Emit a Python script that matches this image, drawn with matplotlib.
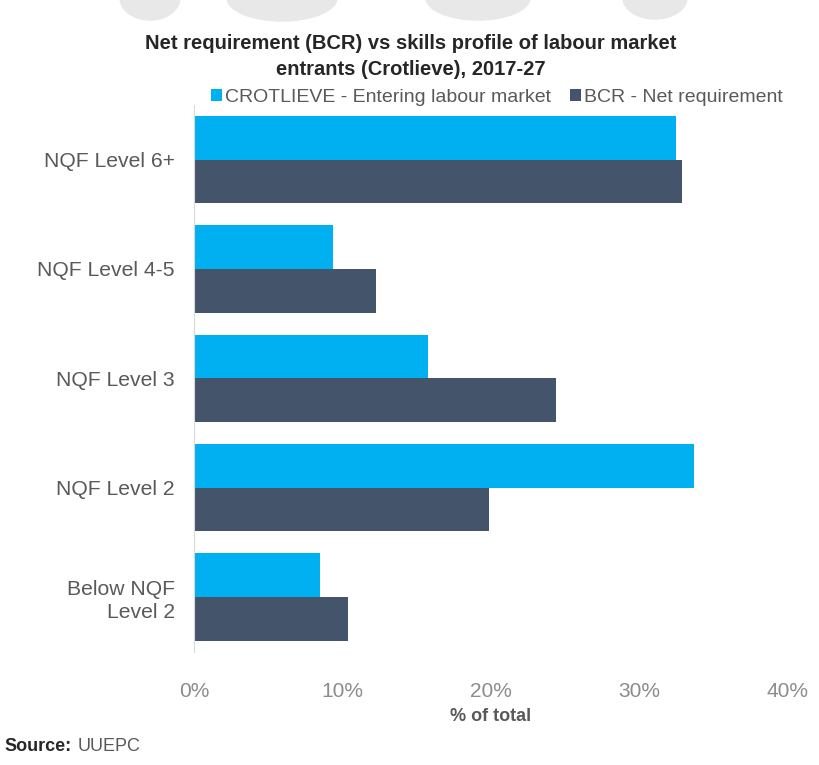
import numpy as np
import matplotlib.pyplot as plt
from matplotlib.patches import Ellipse
from matplotlib.ticker import PercentFormatter

plt.rcParams['font.family'] = ['Liberation Sans', 'DejaVu Sans']

# qualification levels, top to bottom as drawn
levels = ["NQF Level 6+", "NQF Level 4-5", "NQF Level 3", "NQF Level 2",
          "Below NQF\nLevel 2"]
entering = [32.5, 9.4, 15.8, 33.7, 8.5]   # CROTLIEVE - entering labour market
net_req = [32.9, 12.3, 24.4, 19.9, 10.4]  # BCR - net requirement
x_ticks = [0, 10, 20, 30, 40]

cyan = "#00B0F0"
navy = "#44546A"
grey = "#595959"

W, H = 819, 765
fig = plt.figure(figsize=(W / 100, H / 100), dpi=100)

# faint logo shapes bleeding in from the top edge
for cx, w, hgt in [(150, 60, 44), (282, 110, 46), (478, 104, 44), (655, 64, 42)]:
    fig.patches.append(Ellipse((cx / W, 1 + 2 / H), w / W, hgt / H,
                               transform=fig.transFigure, color="#e8e8e8",
                               zorder=0))

ax = fig.add_axes([0.237, 0.148, 0.724, 0.715])

y = np.arange(len(levels))
h = 0.4
ax.barh(y - h / 2, entering, height=h, color=cyan,
        label="CROTLIEVE - Entering labour market")
ax.barh(y + h / 2, net_req, height=h, color=navy,
        label="BCR - Net requirement")

ax.set_ylim(len(levels) - 0.5, -0.5)
ax.set_yticks(y)
ax.set_yticklabels(levels, fontsize=15.2, color=grey, linespacing=1.25)
ax.set_xlim(0, 40)
ax.set_xticks(x_ticks)
ax.xaxis.set_major_formatter(PercentFormatter(decimals=0))
ax.tick_params(axis="x", labelsize=15, labelcolor="#8c8c8c", length=0, pad=22)
ax.tick_params(axis="y", length=0, pad=14)
ax.set_xlabel("% of total", fontsize=13, fontweight="bold", color=grey,
              labelpad=5)

for side in ["top", "right", "bottom"]:
    ax.spines[side].set_visible(False)
ax.spines["left"].set_color("#d9d9d9")

fig.text(0.502, 0.926, "Net requirement (BCR) vs skills profile of labour market\n"
         "entrants (Crotlieve), 2017-27", ha="center", va="center",
         fontsize=14.5, fontweight="bold", color="#262626", linespacing=1.45)

fig.legend(loc="center", bbox_to_anchor=(0.607, 0.873), ncol=2, frameon=False,
           fontsize=14, labelcolor=grey, handlelength=0.55, handleheight=0.55,
           handletextpad=0.15, columnspacing=1.0)

fig.text(0.005, 0.018, "Source:", fontsize=13, fontweight="bold", color="#262626")
fig.text(0.095, 0.018, "UUEPC", fontsize=13, color=grey)

fig.savefig("out.png", dpi=100, facecolor="white")
